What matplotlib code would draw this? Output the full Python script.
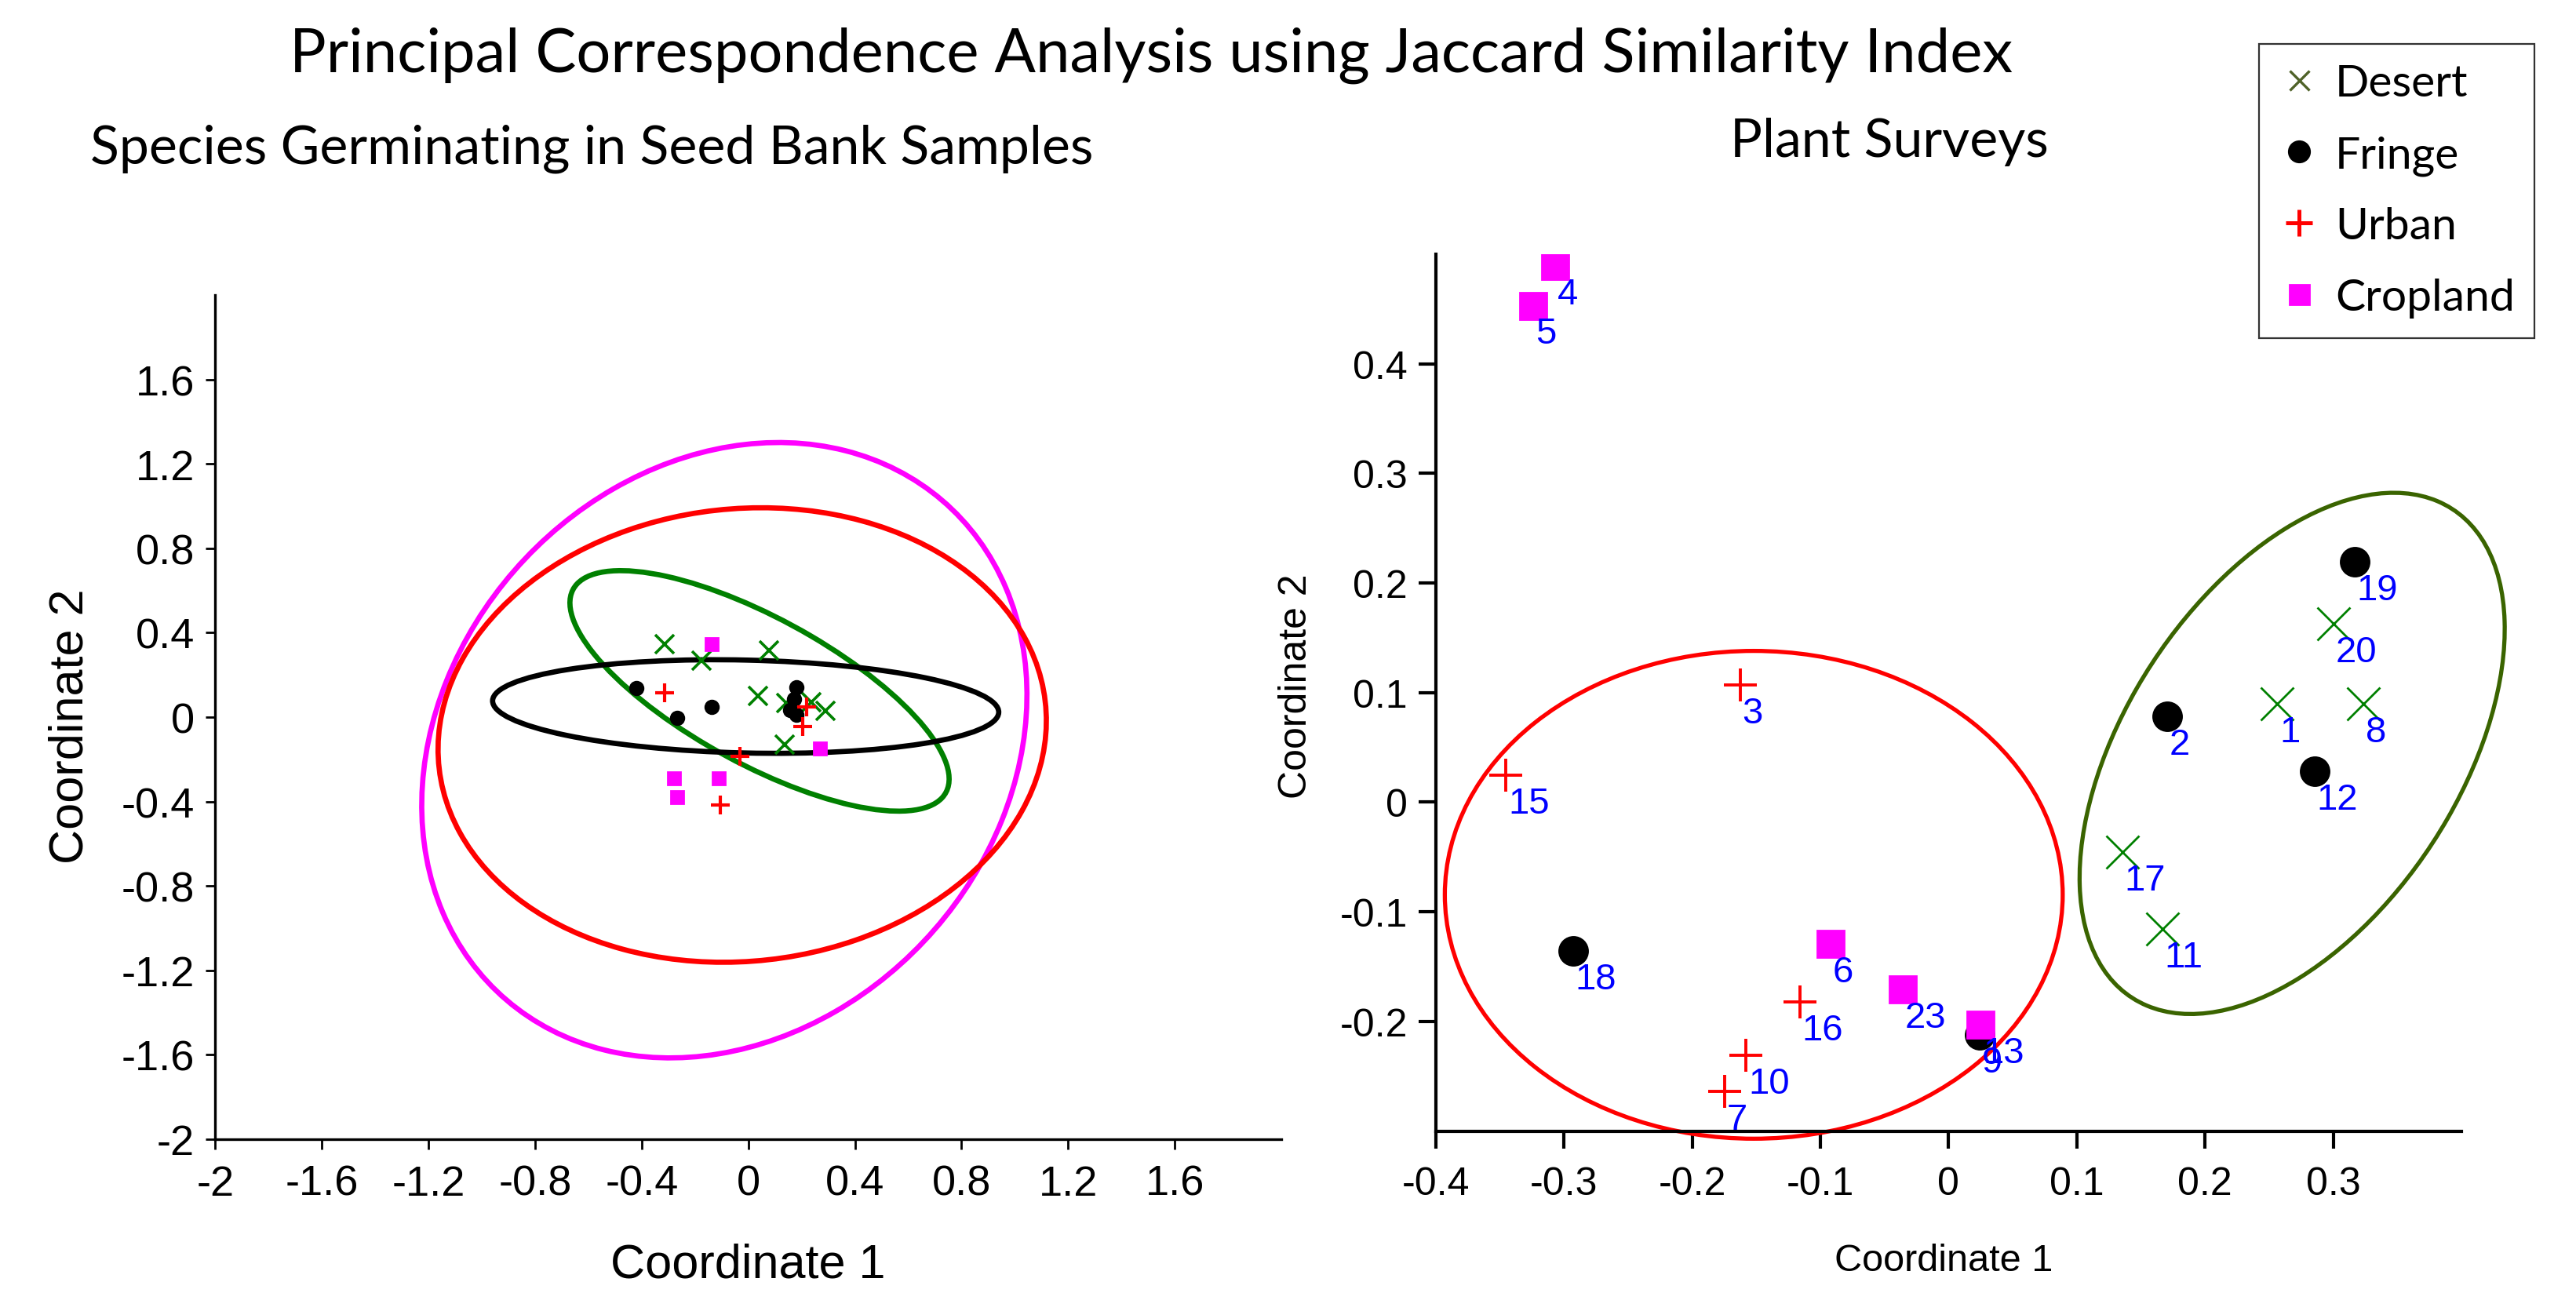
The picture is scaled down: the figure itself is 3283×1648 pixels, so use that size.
import matplotlib
matplotlib.use("Agg")
import matplotlib.pyplot as plt
from matplotlib.patches import Ellipse
from matplotlib.lines import Line2D

# ========== DATA ==========
# Left panel: seed bank samples
desert_seed_x = [-0.315, -0.175, 0.078, 0.036, 0.141, 0.235, 0.289, 0.135]
desert_seed_y = [0.347, 0.267, 0.314, 0.099, 0.066, 0.072, 0.029, -0.130]
fringe_seed_x = [-0.42, -0.266, -0.139, 0.181, 0.171, 0.156, 0.181]
fringe_seed_y = [0.137, -0.005, 0.047, 0.140, 0.084, 0.035, 0.010]
urban_seed_x = [-0.315, 0.218, 0.205, -0.033, -0.104]
urban_seed_y = [0.115, 0.047, -0.043, -0.185, -0.416]
crop_seed_x = [-0.139, 0.269, -0.279, -0.111, -0.266]
crop_seed_y = [0.347, -0.148, -0.290, -0.290, -0.378]

# ellipses: centre x, centre y, width, height, angle
desert_seed_ell = [0.042, 0.124, 1.704, 0.648, -36.5]
fringe_seed_ell = [-0.01, 0.05, 1.90, 0.44, -1.7]
urban_seed_ell = [-0.023, -0.085, 2.312, 2.122, 23.6]
crop_seed_ell = [-0.09, -0.157, 2.98, 2.186, 72.3]

seed_ticks = [-2, -1.6, -1.2, -0.8, -0.4, 0, 0.4, 0.8, 1.2, 1.6]
seed_tick_labels = ["-2", "-1.6", "-1.2", "-0.8", "-0.4", "0", "0.4", "0.8", "1.2", "1.6"]

# Right panel: plant surveys
desert_site_id = ["1", "8", "11", "17", "20"]
desert_site_x = [0.2565, 0.3236, 0.1666, 0.1354, 0.300]
desert_site_y = [0.0898, 0.0898, -0.1158, -0.0453, 0.163]
fringe_site_id = ["2", "9", "12", "18", "19"]
fringe_site_x = [0.1704, 0.024, 0.2856, -0.293, 0.3166]
fringe_site_y = [0.078, -0.212, 0.0284, -0.136, 0.2195]
urban_site_id = ["3", "7", "10", "15", "16"]
urban_site_x = [-0.1627, -0.175, -0.158, -0.3454, -0.116]
urban_site_y = [0.1067, -0.264, -0.231, 0.0245, -0.182]
crop_site_id = ["4", "5", "6", "13", "23"]
crop_site_x = [-0.3068, -0.324, -0.092, 0.025, -0.036]
crop_site_y = [0.489, 0.453, -0.129, -0.203, -0.171]

urban_site_ell = [-0.152, -0.0845, 0.482, 0.445, 0.0]
desert_site_ell = [0.268, 0.0445, 0.513, 0.27, 63.8]

site_xticks = [-0.4, -0.3, -0.2, -0.1, 0, 0.1, 0.2, 0.3]
site_xtick_labels = ["-0.4", "-0.3", "-0.2", "-0.1", "0", "0.1", "0.2", "0.3"]
site_yticks = [-0.2, -0.1, 0, 0.1, 0.2, 0.3, 0.4]
site_ytick_labels = ["-0.2", "-0.1", "0", "0.1", "0.2", "0.3", "0.4"]
# ==========================

AXIS_FONT = "Liberation Sans"
TITLE_FONT = "Lato"


def add_ellipse(ax, params, color, lw):
    cx, cy, w, h, ang = params
    ax.add_patch(Ellipse((cx, cy), w, h, angle=ang, fill=False,
                         edgecolor=color, linewidth=lw, clip_on=False, zorder=2))


def style_axes(ax, spine_w, tick_len, tick_w, label_size, pad_x, pad_y):
    for side in ["top", "right"]:
        ax.spines[side].set_visible(False)
    for side in ["left", "bottom"]:
        ax.spines[side].set_linewidth(spine_w)
    ax.tick_params(direction="out", length=tick_len, width=tick_w,
                   labelsize=label_size)
    ax.tick_params(axis="x", pad=pad_x)
    ax.tick_params(axis="y", pad=pad_y)
    for lab in ax.get_xticklabels() + ax.get_yticklabels():
        lab.set_fontfamily(AXIS_FONT)


fig = plt.figure(figsize=(16.415, 8.245), dpi=200)

# ---------- left panel ----------
ax1 = fig.add_axes([0.0836, 0.1189, 0.4138, 0.6525])
add_ellipse(ax1, crop_seed_ell, "#ff00ff", 2.4)
add_ellipse(ax1, urban_seed_ell, "#ff0000", 2.4)
add_ellipse(ax1, desert_seed_ell, "#008000", 2.4)
add_ellipse(ax1, fringe_seed_ell, "#000000", 2.4)

ax1.plot(desert_seed_x, desert_seed_y, "x", color="#008000", ms=8.5, mew=1.3, zorder=3)
ax1.plot(fringe_seed_x, fringe_seed_y, "o", color="black", ms=6, zorder=3)
ax1.plot(urban_seed_x, urban_seed_y, "+", color="#ff0000", ms=8.5, mew=1.5, zorder=3)
ax1.plot(crop_seed_x, crop_seed_y, "s", color="#ff00ff", ms=6, zorder=4)

ax1.set_xlim(-2, 2)
ax1.set_ylim(-2, 2)
ax1.set_xticks(seed_ticks)
ax1.set_xticklabels(seed_tick_labels)
ax1.set_yticks(seed_ticks)
ax1.set_yticklabels(seed_tick_labels)
style_axes(ax1, 1.2, 4.5, 1.0, 19.5, 7, 5)
ax1.set_xlabel("Coordinate 1", fontsize=22, fontfamily=AXIS_FONT)
ax1.set_ylabel("Coordinate 2", fontsize=22, fontfamily=AXIS_FONT)
ax1.xaxis.set_label_coords(0.5, -0.1227)
ax1.yaxis.set_label_coords(-0.1145, 0.49)

# ---------- right panel ----------
ax2 = fig.add_axes([0.5574, 0.1252, 0.3981, 0.6778])
add_ellipse(ax2, urban_site_ell, "#ff0000", 1.9)
add_ellipse(ax2, desert_site_ell, "#3a6400", 1.9)

ax2.plot(desert_site_x, desert_site_y, "x", color="#008000", ms=15, mew=1.0, zorder=3)
ax2.plot(fringe_site_x, fringe_site_y, "o", color="black", ms=13, zorder=3)
ax2.plot(urban_site_x, urban_site_y, "+", color="#ff0000", ms=15, mew=1.4, zorder=3)
ax2.plot(crop_site_x, crop_site_y, "s", color="#ff00ff", ms=12.5, zorder=4)

for ids, xs, ys in [(desert_site_id, desert_site_x, desert_site_y),
                    (fringe_site_id, fringe_site_x, fringe_site_y),
                    (urban_site_id, urban_site_x, urban_site_y),
                    (crop_site_id, crop_site_x, crop_site_y)]:
    for lab, x, y in zip(ids, xs, ys):
        ax2.annotate(lab, (x, y), xytext=(1, -5), textcoords="offset points",
                     ha="left", va="top", color="#0000ff", fontsize=17,
                     fontfamily=AXIS_FONT, clip_on=True, zorder=5)

ax2.set_xlim(-0.4, 0.4)
ax2.set_ylim(-0.3, 0.5)
ax2.set_xticks(site_xticks)
ax2.set_xticklabels(site_xtick_labels)
ax2.set_yticks(site_yticks)
ax2.set_yticklabels(site_ytick_labels)
style_axes(ax2, 1.5, 8, 1.5, 18, 8, 5)
ax2.set_xlabel("Coordinate 1", fontsize=17.5, fontfamily=AXIS_FONT)
ax2.set_ylabel("Coordinate 2", fontsize=18, fontfamily=AXIS_FONT)
ax2.xaxis.set_label_coords(0.495, -0.1275)
ax2.yaxis.set_label_coords(-0.1186, 0.508)

# ---------- titles ----------
fig.text(0.447, 0.957, "Principal Correspondence Analysis using Jaccard Similarity Index",
         ha="center", va="center", fontsize=28, fontfamily=TITLE_FONT)
fig.text(0.035, 0.885, "Species Germinating in Seed Bank Samples",
         ha="left", va="center", fontsize=24.5, fontfamily=TITLE_FONT)
fig.text(0.7335, 0.890, "Plant Surveys",
         ha="center", va="center", fontsize=24.5, fontfamily=TITLE_FONT)

# ---------- legend ----------
handles = [
    Line2D([], [], ls="none", marker="x", color="#4f6228", ms=9, mew=1.2),
    Line2D([], [], ls="none", marker="o", color="black", ms=9.5),
    Line2D([], [], ls="none", marker="+", color="#ff0000", ms=12, mew=1.8),
    Line2D([], [], ls="none", marker="s", color="#ff00ff", ms=9),
]
leg = fig.legend(handles, ["Desert", "Fringe", "Urban", "Cropland"],
                 loc="upper right", bbox_to_anchor=(0.984, 0.9657),
                 borderaxespad=0,
                 prop={"family": TITLE_FONT, "size": 20.5},
                 frameon=True, fancybox=False, framealpha=1,
                 edgecolor="#333333", labelspacing=0.7, handletextpad=0.35,
                 borderpad=0.45, handlelength=0.9)
leg.get_frame().set_linewidth(0.8)

fig.savefig("out.png", dpi=200)
